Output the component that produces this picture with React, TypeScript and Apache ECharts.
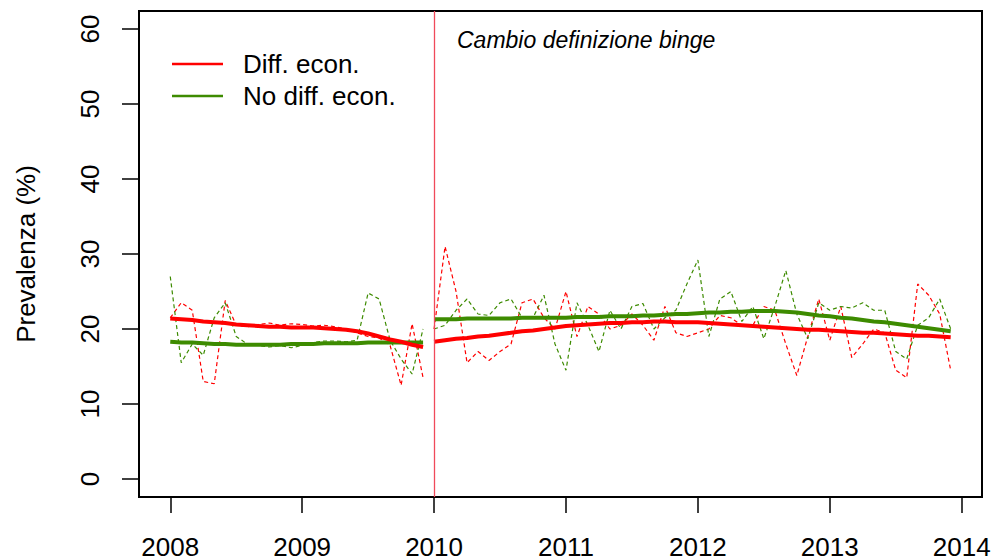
import React, { useEffect, useRef } from "react";
import * as echarts from "echarts";

// Tick labels
const yearTicks = [2008, 2009, 2010, 2011, 2012, 2013, 2014];
const prevTicks = [0, 10, 20, 30, 40, 50, 60];

// Period starts (monthly series)
const start1 = 2008;
const start2 = 2010;
const changeYear = 2010;

// Monthly prevalence, 2008-2009
const diffMonthly1 = [21.5, 23.5, 22.5, 13.0, 12.7, 23.8, 20.5, 20.3, 20.6, 20.8, 20.5, 20.7,
  20.6, 20.4, 20.5, 20.3, 20.0, 19.5, 19.0, 18.8, 17.8, 12.5, 20.7, 13.5];
const noDiffMonthly1 = [27.0, 15.5, 18.0, 16.5, 21.5, 23.5, 19.0, 18.0, 17.8, 17.6, 17.8, 17.5,
  17.8, 18.2, 18.4, 18.4, 18.3, 18.5, 24.8, 24.0, 18.5, 16.0, 14.0, 20.0];

// Monthly prevalence, 2010-2013
const diffMonthly2 = [20.0, 31.0, 25.0, 15.5, 17.0, 15.8, 17.0, 18.0, 23.5, 24.0, 21.5, 20.0,
  25.0, 19.0, 23.0, 22.0, 20.0, 20.5, 22.0, 20.5, 18.5, 23.0, 19.5, 19.0,
  19.5, 20.0, 21.8, 21.5, 20.5, 20.5, 23.0, 22.5, 18.0, 13.8, 19.0, 24.0,
  18.5, 23.0, 16.2, 18.0, 20.0, 19.5, 14.5, 13.5, 26.0, 24.5, 22.0, 14.5];
const noDiffMonthly2 = [20.0, 20.5, 22.5, 24.0, 22.0, 21.8, 23.5, 24.0, 21.5, 21.5, 24.5, 18.0,
  14.5, 23.5, 20.5, 17.0, 22.5, 20.0, 23.0, 23.4, 20.0, 21.5, 22.5, 26.0,
  29.2, 19.0, 24.0, 25.0, 21.0, 23.0, 18.7, 23.0, 27.8, 22.0, 18.7, 23.5,
  22.5, 23.0, 22.8, 23.5, 22.5, 22.5, 17.0, 16.0, 20.5, 21.5, 24.0, 20.0];

// Smoothed trends
const diffTrend1 = [21.4, 21.3, 21.2, 21.0, 20.9, 20.8, 20.6, 20.5, 20.4, 20.3, 20.3, 20.2,
  20.2, 20.2, 20.1, 20.0, 19.9, 19.7, 19.4, 19.0, 18.6, 18.3, 17.9, 17.6];
const noDiffTrend1 = [18.3, 18.2, 18.2, 18.1, 18.0, 18.0, 17.9, 17.9, 17.9, 17.9, 17.9, 18.0,
  18.0, 18.0, 18.1, 18.1, 18.1, 18.1, 18.2, 18.2, 18.2, 18.2, 18.2, 18.2];
const diffTrend2 = [18.3, 18.5, 18.7, 18.8, 19.0, 19.1, 19.3, 19.5, 19.7, 19.8, 20.0, 20.2,
  20.4, 20.5, 20.6, 20.7, 20.8, 20.8, 20.9, 20.9, 21.0, 21.0, 20.9, 20.9,
  20.9, 20.8, 20.7, 20.6, 20.5, 20.4, 20.3, 20.2, 20.1, 20.0, 19.9, 19.9,
  19.8, 19.7, 19.6, 19.5, 19.5, 19.4, 19.3, 19.2, 19.1, 19.1, 19.0, 18.9];
const noDiffTrend2 = [21.3, 21.3, 21.3, 21.4, 21.4, 21.4, 21.4, 21.4, 21.5, 21.5, 21.5, 21.5,
  21.5, 21.6, 21.6, 21.6, 21.7, 21.7, 21.7, 21.8, 21.8, 21.9, 22.0, 22.0,
  22.1, 22.2, 22.2, 22.3, 22.3, 22.4, 22.4, 22.4, 22.3, 22.2, 22.0, 21.8,
  21.7, 21.5, 21.4, 21.2, 21.0, 20.9, 20.7, 20.5, 20.3, 20.1, 19.9, 19.7];

const seriesNames = ["Diff. econ.", "No diff. econ."];
const annotation = "Cambio definizione binge";
const yTitle = "Prevalenza (%)";

const RED = "#ff0000";
const GREEN = "#3d8b00";
const FONT = "'Liberation Sans', Arial, sans-serif";

const toPoints = (start: number, values: number[]) =>
  values.map((v, i) => [start + i / 12, v]);

export default function App() {
  const ref = useRef<HTMLDivElement>(null);
  useEffect(() => {
    if (!ref.current) return;
    const chart = echarts.init(ref.current, null, { renderer: "svg" });
    const dashed = (name: string, data: number[][], color: string) => ({
      name,
      type: "line",
      data,
      showSymbol: false,
      symbol: "none",
      silent: true,
      lineStyle: { color, width: 1.2, type: [4, 3] },
      itemStyle: { color },
      z: 2,
    });
    const thick = (name: string, data: number[][], color: string, z: number) => ({
      name,
      type: "line",
      data,
      showSymbol: false,
      symbol: "none",
      silent: true,
      lineStyle: { color, width: 4 },
      itemStyle: { color },
      z,
    });
    const option: any = {
      animation: false,
      backgroundColor: "#ffffff",
      textStyle: { fontFamily: FONT },
      grid: {
        left: 139,
        top: 11,
        right: 14,
        bottom: 63,
        show: true,
        borderColor: "#000",
        borderWidth: 2,
        backgroundColor: "transparent",
      },
      legend: {
        data: seriesNames,
        orient: "vertical",
        left: 167,
        top: 46,
        icon: "rect",
        itemWidth: 51,
        itemHeight: 2.5,
        itemGap: 6,
        textStyle: { fontSize: 26, color: "#000", fontFamily: FONT, lineHeight: 26, padding: [0, 0, 0, 15] },
        selectedMode: false,
      },
      xAxis: {
        type: "value",
        min: 2007.763,
        max: 2014.154,
        axisLine: { show: false, onZero: false },
        splitLine: { show: false },
        axisTick: {
          show: true,
          length: 16,
          inside: false,
          customValues: yearTicks,
          lineStyle: { color: "#000", width: 1.5 },
        },
        axisLabel: {
          customValues: yearTicks,
          fontSize: 26,
          lineHeight: 21,
          color: "#000",
          margin: 39,
          fontFamily: FONT,
          formatter: (v: number) => String(Math.round(v)),
        },
      },
      yAxis: {
        type: "value",
        min: -2.4,
        max: 62.4,
        name: yTitle,
        nameLocation: "middle",
        nameGap: 100,
        nameTextStyle: { fontSize: 26, color: "#000", fontFamily: FONT },
        axisLine: { show: false, onZero: false },
        splitLine: { show: false },
        axisTick: {
          show: true,
          length: 17,
          inside: false,
          customValues: prevTicks,
          lineStyle: { color: "#000", width: 1.5 },
        },
        axisLabel: {
          customValues: prevTicks,
          rotate: 90,
          fontSize: 26,
          color: "#000",
          margin: 36,
          fontFamily: FONT,
          formatter: (v: number) => String(Math.round(v)),
        },
      },
      graphic: [
        {
          type: "text",
          left: 457,
          top: 28,
          style: {
            text: annotation,
            fontSize: 23,
            fontStyle: "italic",
            fontFamily: FONT,
            fill: "#000",
          },
        },
      ],
      series: [
        {
          ...dashed("diff-m1", toPoints(start1, diffMonthly1), RED),
          markLine: {
            silent: true,
            symbol: ["none", "none"],
            label: { show: false },
            lineStyle: { color: "#f04a5a", width: 1.3, type: "solid" },
            data: [{ xAxis: changeYear }],
          },
        },
        dashed("nodiff-m1", toPoints(start1, noDiffMonthly1), GREEN),
        dashed("diff-m2", toPoints(start2, diffMonthly2), RED),
        dashed("nodiff-m2", toPoints(start2, noDiffMonthly2), GREEN),
        thick(seriesNames[1], toPoints(start1, noDiffTrend1), GREEN, 3),
        thick(seriesNames[1], toPoints(start2, noDiffTrend2), GREEN, 3),
        thick(seriesNames[0], toPoints(start1, diffTrend1), RED, 4),
        thick(seriesNames[0], toPoints(start2, diffTrend2), RED, 4),
      ],
    };
    chart.setOption(option);
    return () => chart.dispose();
  }, []);
  return (
    <div
      ref={ref}
      style={{ position: "absolute", left: 0, top: 0, width: 996, height: 560 }}
    />
  );
}
